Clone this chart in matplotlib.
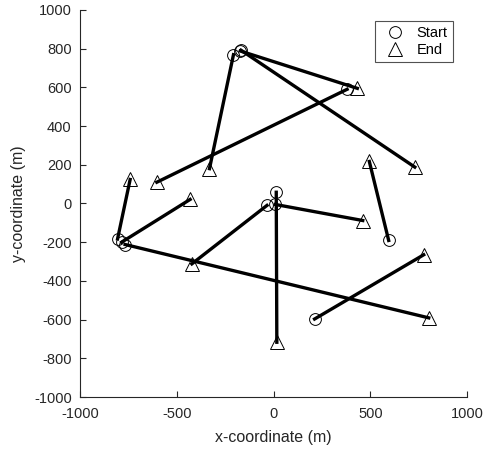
import numpy as np
import matplotlib
matplotlib.use("Agg")
import matplotlib.pyplot as plt
from matplotlib.lines import Line2D

plt.rcParams['font.family'] = ['Liberation Sans', 'DejaVu Sans']
plt.rcParams['axes.unicode_minus'] = False

# start / end points of each path (m)
start_x = [-207, -172, -168, 380, -806, -785, -767, -34, 9, 14, 595, 212]
start_y = [769, 788, 792, 590, -183, -200, -212, -10, -5, 58, -191, -597]
end_x = [-331, 433, 730, -603, -741, -431, 802, -422, 461, 17, 495, 776]
end_y = [180, 595, 188, 110, 124, 21, -591, -312, -88, -717, 217, -265]

grey = '#262626'

fig = plt.figure(figsize=(4.85, 4.53), dpi=100)
ax = fig.add_axes([0.165, 0.1236, 0.798, 0.8544])

for sx, sy, ex, ey in zip(start_x, start_y, end_x, end_y):
    ax.plot([sx, ex], [sy, ey], color='black', linewidth=2.4, zorder=2)
ax.plot(start_x, start_y, linestyle='none', marker='o', markersize=8.5,
        markerfacecolor='none', markeredgecolor='black', markeredgewidth=0.7, zorder=3)
ax.plot(end_x, end_y, linestyle='none', marker='^', markersize=9.5,
        markerfacecolor='none', markeredgecolor='black', markeredgewidth=0.7, zorder=3)

ax.set_xlim(-1000, 1000)
ax.set_ylim(-1000, 1000)
ax.set_xticks(np.arange(-1000, 1001, 500))
ax.set_yticks(np.arange(-1000, 1001, 200))
ax.set_xlabel('x-coordinate (m)', fontsize=11.5, color=grey, labelpad=7)
ax.set_ylabel('y-coordinate (m)', fontsize=11.5, color=grey, labelpad=6)

for s in ['top', 'right']:
    ax.spines[s].set_visible(False)
for s in ['left', 'bottom']:
    ax.spines[s].set_color(grey)
    ax.spines[s].set_linewidth(0.8)
ax.tick_params(direction='in', length=4, width=0.8, colors=grey, labelsize=10.5)
ax.tick_params(axis='x', pad=7)
ax.tick_params(axis='y', pad=6)

handles = [
    Line2D([], [], linestyle='none', marker='o', markersize=8.5,
           markerfacecolor='none', markeredgecolor='black', markeredgewidth=0.7),
    Line2D([], [], linestyle='none', marker='^', markersize=9.5,
           markerfacecolor='none', markeredgecolor='black', markeredgewidth=0.7),
]
leg = ax.legend(handles, ['Start', 'End'], loc='upper right', bbox_to_anchor=(0.97, 0.98),
                fontsize=10.5, frameon=True, fancybox=False, handlelength=2.0,
                handletextpad=0.5, borderpad=0.35, labelspacing=0.25,
                borderaxespad=0.2)
leg.get_frame().set_edgecolor(grey)
leg.get_frame().set_linewidth(0.8)

fig.savefig('out.png', dpi=100)
